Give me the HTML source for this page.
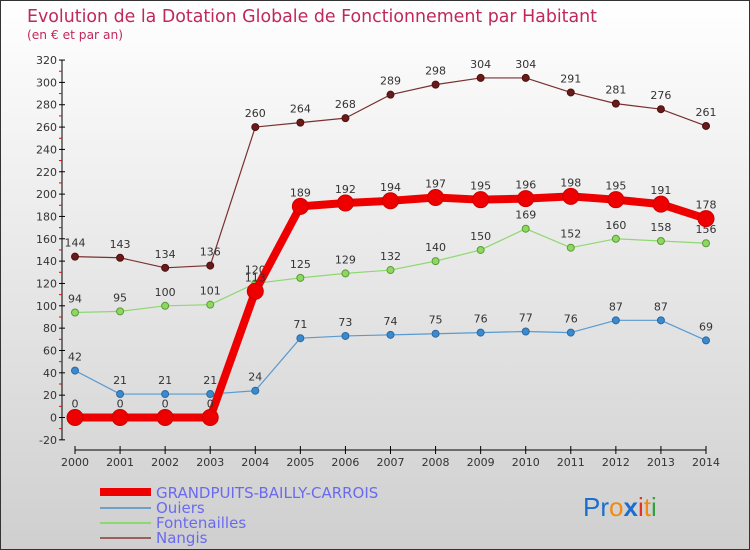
<!DOCTYPE html>
<html><head><meta charset="utf-8"><style>
body{margin:0;width:750px;height:550px;overflow:hidden}
svg{display:block;font-family:"DejaVu Sans","Liberation Sans",sans-serif}
</style></head><body>
<svg id="chart" width="750" height="550" xmlns="http://www.w3.org/2000/svg">
<defs><linearGradient id="bg" x1="0" y1="0" x2="0" y2="1"><stop offset="0" stop-color="#ffffff"/><stop offset="1" stop-color="#cfcfcf"/></linearGradient></defs>
<rect x="0.5" y="0.5" width="749" height="549" fill="url(#bg)" stroke="#333"/>
<text x="27" y="22" font-size="18" fill="#c0285a" textLength="570" lengthAdjust="spacingAndGlyphs">Evolution de la Dotation Globale de Fonctionnement par Habitant</text>
<text x="27" y="39" font-size="12" fill="#c0285a" textLength="96" lengthAdjust="spacingAndGlyphs">(en € et par an)</text>
<g id="axes"></g><g id="series"></g>
<g font-size="15" fill="#6a6af0">
<line x1="100" y1="492" x2="151" y2="492" stroke="#ee0000" stroke-width="8"/>
<text x="156" y="498">GRANDPUITS-BAILLY-CARROIS</text>
<line x1="100" y1="508" x2="151" y2="508" stroke="#6fa0c8" stroke-width="2"/>
<text x="156" y="513">Ouiers</text>
<line x1="100" y1="523" x2="151" y2="523" stroke="#8fd870" stroke-width="2"/>
<text x="156" y="528">Fontenailles</text>
<line x1="100" y1="538" x2="151" y2="538" stroke="#9a6060" stroke-width="2"/>
<text x="156" y="543">Nangis</text>
</g>
<g font-size="26" font-family="Liberation Sans,sans-serif">
<text x="583" y="516"><tspan fill="#1a6ed0">Pr</tspan><tspan fill="#f08a10">o</tspan><tspan fill="#1a6ed0" font-weight="bold">x</tspan><tspan fill="#e83020">i</tspan><tspan fill="#f08a10">t</tspan><tspan fill="#30a040">i</tspan></text>
</g>
</svg>
<script>
const years=[2000,2001,2002,2003,2004,2005,2006,2007,2008,2009,2010,2011,2012,2013,2014];
const grandpuits=[0,0,0,0,113,189,192,194,197,195,196,198,195,191,178];
const ouiers=[42,21,21,21,24,71,73,74,75,76,77,76,87,87,69];
const fontenailles=[94,95,100,101,120,125,129,132,140,150,169,152,160,158,156];
const nangis=[144,143,134,136,260,264,268,289,298,304,304,291,281,276,261];
const yTicks=[-20,0,20,40,60,80,100,120,140,160,180,200,220,240,260,280,300,320];
const NS="http://www.w3.org/2000/svg";
function X(i){return 75+i*(631/14);}
function Y(v){return 417.5-1.117*v;}
function mk(t,a,p){const e=document.createElementNS(NS,t);for(const k in a)e.setAttribute(k,a[k]);p.appendChild(e);return e;}
const ax=document.getElementById('axes');
const yl=mk('line',{x1:62,y1:Y(320),x2:62,y2:Y(-20),stroke:'#000'},ax);


yTicks.forEach(v=>{
 const t=mk('line',{x1:59,y1:Y(v),x2:65,y2:Y(v),stroke:'#000'},ax);
 
 
 if(v<320){
 const m=mk('line',{x1:59,y1:Y(v+10),x2:62,y2:Y(v+10),stroke:'#e00'},ax);
 
 
 }
 const l=mk('text',{x:57,y:Y(v)+4,'font-size':11,fill:'#333','text-anchor':'end'},ax);
 l.textContent=v;
 
 
});
const xl=mk('line',{x1:X(0),y1:450,x2:X(14),y2:450,stroke:'#000'},ax);


years.forEach((y,i)=>{
 const t=mk('line',{x1:X(i),y1:446,x2:X(i),y2:454,stroke:'#000'},ax);
 
 
 const l=mk('text',{x:X(i),y:466,'font-size':11,fill:'#333','text-anchor':'middle'},ax);
 l.textContent=y;
 
 
});
const sg=document.getElementById('series');
function draw(vals,name,color,w,r,dot,stroke){
 const g=mk('g',{},sg);
 
 
 const pl=mk('polyline',{points:vals.map((v,i)=>X(i)+','+Y(v)).join(' '),fill:'none',stroke:color,'stroke-width':w,'stroke-linejoin':'round'},g);
 
 
 vals.forEach((v,i)=>{
  const c=mk('circle',{cx:X(i),cy:Y(v),r:r,fill:dot,stroke:stroke,'stroke-width':1},g);
  
  
  const l=mk('text',{x:X(i),y:Y(v)-10,'font-size':11,fill:'#333','text-anchor':'middle'},g);
  l.textContent=v;
  
  
 });
}
draw(nangis,'nangis','#7a3030',1.2,3.5,'#6a1a1a','#4a1010');
draw(fontenailles,'fontenailles','#8fd870',1.2,3.5,'#8fd860','#5a9a3a');
draw(ouiers,'ouiers','#5a9ad0',1.2,3.5,'#3a8ad0','#2a6aa0');
draw(grandpuits,'grandpuits','#ee0000',8,8,'#ee0000','#cc0000');
</script>
</body></html>
